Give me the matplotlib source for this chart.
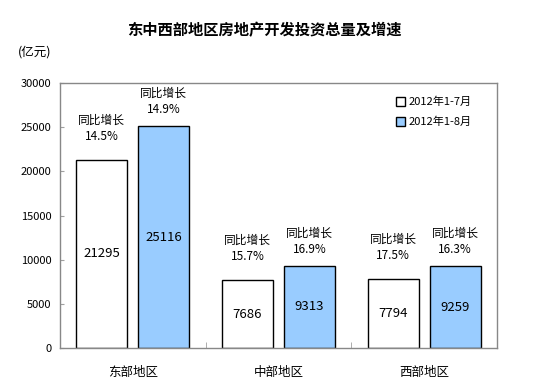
import numpy as np
import matplotlib.pyplot as plt

plt.rcParams['font.family'] = ['Noto Sans CJK SC', 'DejaVu Sans']

# ------------------------------
# Data
# ------------------------------
regions = ["东部地区", "中部地区", "西部地区"]
invest_jul = [21295, 7686, 7794]
invest_aug = [25116, 9313, 9259]
growth_jul = [14.5, 15.7, 17.5]
growth_aug = [14.9, 16.9, 16.3]
series_names = ["2012年1-7月", "2012年1-8月"]


def main():
    fig = plt.figure(figsize=(5.54, 3.89), dpi=100)
    ax = fig.add_axes([60 / 554, 1 - 348 / 389, 437 / 554, 265 / 389])

    x = np.arange(len(regions))
    w = 0.35
    off = 0.2125

    b1 = ax.bar(x - off, invest_jul, w, color="white", edgecolor="black",
                linewidth=1.0, label=series_names[0])
    b2 = ax.bar(x + off, invest_aug, w, color="#99CCFF", edgecolor="black",
                linewidth=1.0, label=series_names[1])

    # value labels inside bars + growth labels above
    for bars, vals, gr, pad in [(b1, invest_jul, growth_jul, 12),
                                (b2, invest_aug, growth_aug, 7)]:
        for rect, v, g in zip(bars, vals, gr):
            cx = rect.get_x() + rect.get_width() / 2
            ax.text(cx, v / 2, f"{v}", ha="center", va="center", fontsize=9.5)
            ax.annotate(f"同比增长\n{g:.1f}%", (cx, v), xytext=(0, pad),
                        textcoords="offset points", ha="center", va="bottom",
                        fontsize=8.5, linespacing=1.35)

    ax.set_xlim(-0.5, 2.5)
    ax.set_ylim(0, 30000)
    ax.set_yticks(np.arange(0, 30001, 5000))
    ax.set_xticks(x)
    ax.set_xticklabels(regions, fontsize=9)
    ax.set_xticks([0.5, 1.5], minor=True)
    ax.tick_params(axis="x", which="major", length=0, pad=13)
    ax.tick_params(axis="x", which="minor", length=4, direction="in", color="#a0a0a0")
    ax.tick_params(axis="y", length=3, direction="in", color="#a0a0a0",
                   labelsize=8, pad=6)

    for s in ax.spines.values():
        s.set_color("#888888")
        s.set_linewidth(1.0)

    ax.legend(loc="upper right", bbox_to_anchor=(0.965, 0.985), frameon=False,
              fontsize=8, handlelength=0.8, handleheight=0.8,
              handletextpad=0.3, labelspacing=0.85)

    fig.text(264 / 554, 1 - 30 / 389, "东中西部地区房地产开发投资总量及增速",
             ha="center", va="center", fontsize=11, fontweight="bold")
    fig.text(18 / 554, 1 - 52 / 389, "(亿元)", ha="left", va="center", fontsize=9)

    plt.savefig("out.png", dpi=100)


if __name__ == "__main__":
    main()
